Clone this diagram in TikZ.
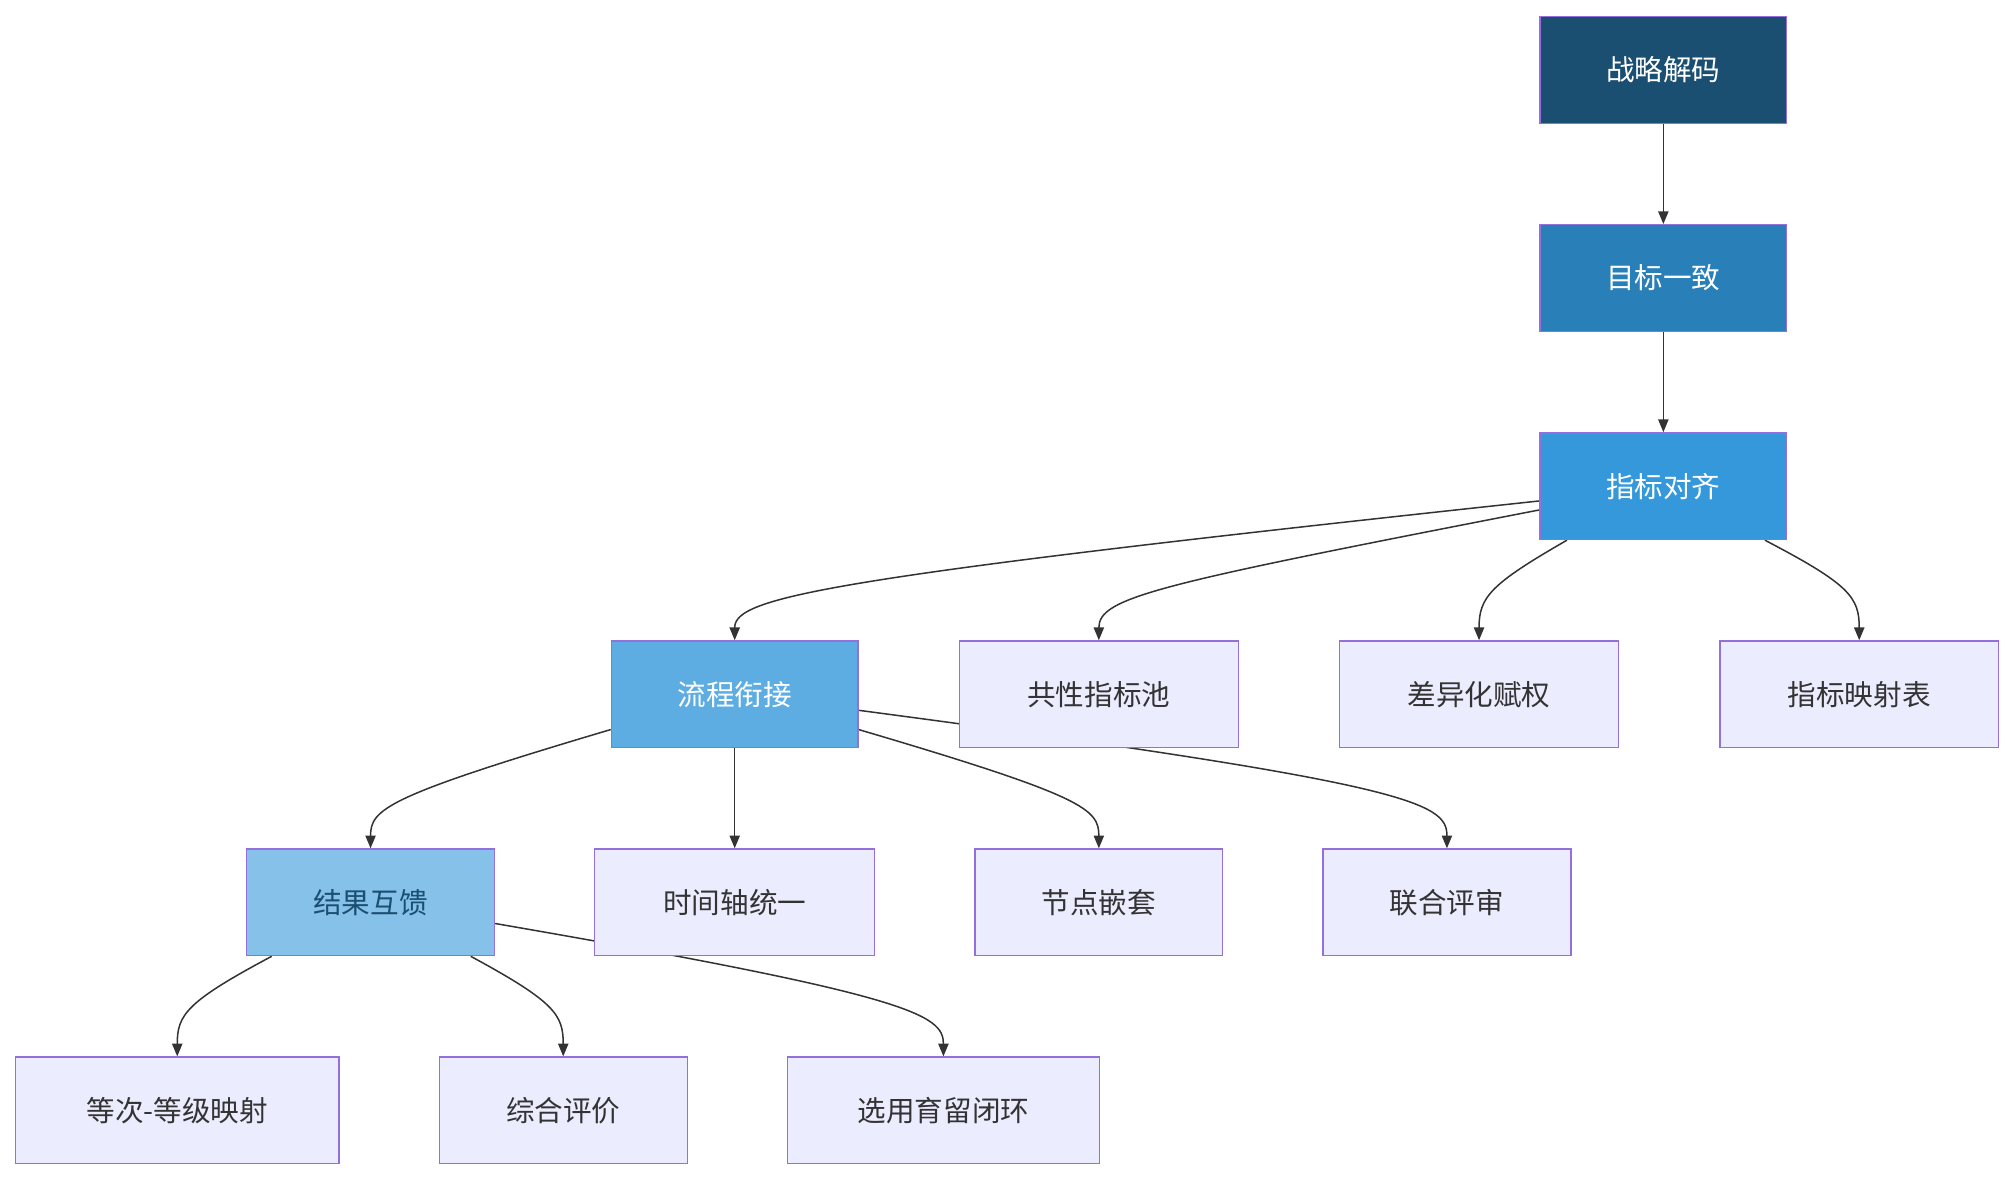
\documentclass[tikz,border=0pt]{standalone}
\usepackage{fontspec}
\setmainfont{Noto Sans CJK SC}
\usetikzlibrary{arrows.meta,calc,backgrounds}
\definecolor{lav}{HTML}{ECECFF}
\definecolor{lavb}{HTML}{9370DB}
\definecolor{ln}{HTML}{333333}
\tikzset{
 box/.style={draw=lavb,line width=0.9pt,fill=lav,minimum height=2.49cm,text=ln,font=\fontsize{19}{22}\selectfont},
 dk/.style={box,text=white},
 ed/.style={draw=ln,line width=1pt,-{Triangle[length=0.3cm,width=0.24cm]}}
}
\begin{document}
\begin{tikzpicture}[x=0.03cm,y=-0.03cm]
\useasboundingbox (0,0) rectangle (1568,918);
\node[dk,fill={rgb,255:red,27;green,79;blue,114},minimum width=5.76cm] (zl) at (1295,54.5) {战略解码};
\node[dk,fill={rgb,255:red,41;green,128;blue,185},minimum width=5.76cm] (mb) at (1295,216.5) {目标一致};
\node[dk,fill={rgb,255:red,52;green,152;blue,219},minimum width=5.76cm] (zb) at (1295,378.5) {指标对齐};
\node[dk,fill={rgb,255:red,93;green,173;blue,226},minimum width=5.76cm] (lc) at (572,540.5) {流程衔接};
\node[box,minimum width=6.51cm] (gx) at (855.5,540.5) {共性指标池};
\node[box,minimum width=6.51cm] (cy) at (1151.5,540.5) {差异化赋权};
\node[box,minimum width=6.51cm] (ys) at (1447.5,540.5) {指标映射表};
\node[box,fill={rgb,255:red,133;green,193;blue,233},text={rgb,255:red,27;green,79;blue,114},minimum width=5.79cm] (jg) at (288.5,702.5) {结果互馈};
\node[box,minimum width=6.54cm] (sj) at (572,702.5) {时间轴统一};
\node[box,minimum width=5.79cm] (jd) at (855.5,702.5) {节点嵌套};
\node[box,minimum width=5.79cm] (lh) at (1126.5,702.5) {联合评审};
\node[box,minimum width=7.56cm] (dc) at (138,864.5) {等次-等级映射};
\node[box,minimum width=5.79cm] (zh) at (438.5,864.5) {综合评价};
\node[box,minimum width=7.29cm] (xy) at (734.5,864.5) {选用育留闭环};
\begin{scope}[on background layer]
\draw[ed] (zl) -- (mb);
\draw[ed] (mb) -- (zb);
\draw[ed] ($(zb.west)+(0,11.5)$) .. controls (640,450) and (572,465) .. (lc.north);
\draw[ed] ($(zb.west)+(0,18.5)$) .. controls (900,455) and (855.5,465) .. (gx.north);
\draw[ed] ($(zb.south)+(-75,0)$) .. controls (1160,455) and (1151.5,465) .. (cy.north);
\draw[ed] ($(zb.south)+(79,0)$) .. controls (1440,455) and (1447.5,465) .. (ys.north);
\draw[ed] ($(lc.west)+(0,27.5)$) .. controls (300,620) and (288.5,630) .. (jg.north);
\draw[ed] (lc) -- (sj);
\draw[ed] ($(lc.east)+(0,27.5)$) .. controls (845,620) and (855.5,630) .. (jd.north);
\draw[ed] ($(lc.east)+(0,12.5)$) .. controls (1100,610) and (1126.5,625) .. (lh.north);
\draw[ed] ($(jg.south)+(-77,0)$) .. controls (145,780) and (138,790) .. (dc.north);
\draw[ed] ($(jg.south)+(78,0)$) .. controls (432,780) and (438.5,790) .. (zh.north);
\draw[ed] ($(jg.east)+(0,16.5)$) .. controls (710,775) and (734.5,790) .. (xy.north);
\end{scope}
\end{tikzpicture}
\end{document}
